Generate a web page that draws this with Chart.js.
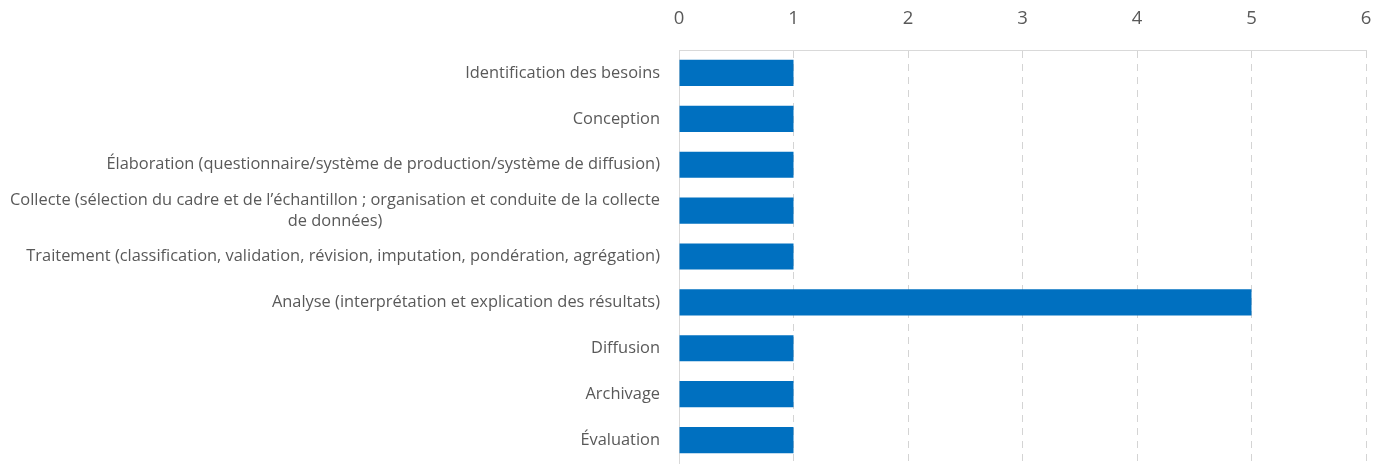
<!DOCTYPE html>
<html>
<head>
<meta charset="utf-8">
<script src="https://cdn.jsdelivr.net/npm/chart.js@4/dist/chart.umd.min.js"></script>
<style>
  html, body { margin: 0; padding: 0; background: #fff; }
  #wrap { width: 1381px; height: 464px; }
</style>
</head>
<body>
<div id="wrap"><canvas id="chart"></canvas></div>
<script>
const categories = [
  ['Identification des besoins'],
  ['Conception'],
  ['Élaboration (questionnaire/système de production/système de diffusion)'],
  ['Collecte (sélection du cadre et de l’échantillon ; organisation et conduite de la collecte', 'de données)'],
  ['Traitement (classification, validation, révision, imputation, pondération, agrégation)'],
  ['Analyse (interprétation et explication des résultats)'],
  ['Diffusion'],
  ['Archivage'],
  ['Évaluation']
];
const counts = [1, 1, 1, 1, 1, 5, 1, 1, 1];
const xTicks = [0, 1, 2, 3, 4, 5, 6];

const labelFont = '16.4px "Open Sans"';
const textColor = '#595959';

// draws the category labels: right aligned, extra lines centred under the first
const categoryLabels = {
  id: 'categoryLabels',
  afterDraw(chart) {
    const ctx = chart.ctx;
    const y = chart.scales.y;
    const right = y.right - 19;
    const lineH = 21;
    ctx.save();
    ctx.font = labelFont;
    ctx.fillStyle = textColor;
    ctx.textBaseline = 'middle';
    categories.forEach((lines, i) => {
      const cy = y.getPixelForValue(i);
      const widest = Math.max(...lines.map(l => ctx.measureText(l).width));
      const top = cy - (lines.length - 1) * lineH / 2;
      lines.forEach((line, j) => {
        if (j === 0) {
          ctx.textAlign = 'right';
          ctx.fillText(line, right, top + j * lineH);
        } else {
          ctx.textAlign = 'center';
          ctx.fillText(line, right - widest / 2, top + j * lineH);
        }
      });
    });
    ctx.restore();
  }
};

new Chart(document.getElementById('chart'), {
  type: 'bar',
  data: {
    labels: categories.map(c => c.join(' ')),
    datasets: [{
      data: counts,
      backgroundColor: '#0070C0',
      barPercentage: 0.57,
      categoryPercentage: 1
    }]
  },
  options: {
    indexAxis: 'y',
    responsive: true,
    maintainAspectRatio: false,
    animation: false,
    layout: { padding: { left: 0, right: 0, top: 0, bottom: 1 } },
    plugins: { legend: { display: false }, tooltip: { enabled: false } },
    scales: {
      x: {
        position: 'top',
        min: 0,
        max: 6,
        afterBuildTicks: (scale) => { scale.ticks = xTicks.map(v => ({ value: v })); },
        afterFit: (scale) => {
          scale.height = 50;
          scale.paddingRight = 15;
        },
        ticks: {
          color: textColor,
          font: { family: 'Open Sans', size: 18.5 },
          padding: 20
        },
        grid: {
          color: '#d4d4d4',
          lineWidth: 1,
          drawTicks: false
        },
        border: { display: true, color: '#d9d9d9', dash: [7, 6] }
      },
      y: {
        afterFit: (scale) => { scale.width = 679; },
        ticks: { display: false },
        grid: { display: false, drawTicks: false },
        border: { display: true, color: '#d9d9d9' }
      }
    }
  },
  plugins: [categoryLabels]
});
</script>
</body>
</html>
